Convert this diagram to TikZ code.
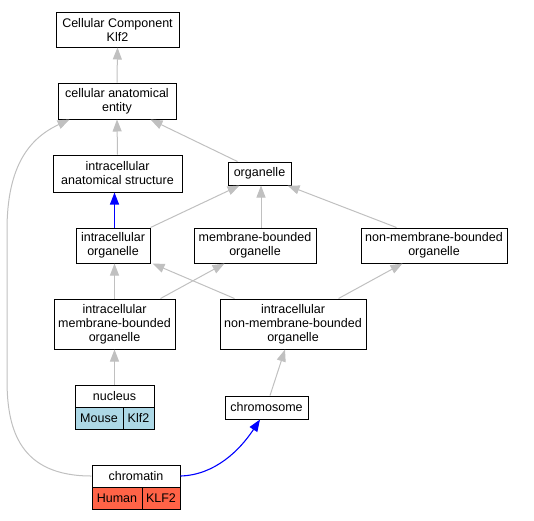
\documentclass[tikz,border=0pt]{standalone}
\usepackage{fontspec}
\setmainfont{Liberation Sans}
\usetikzlibrary{arrows.meta}
\definecolor{edgegray}{HTML}{C0C0C0}
\definecolor{mouseblue}{HTML}{ADD8E6}
\definecolor{humanred}{HTML}{FF6347}
\tikzset{
  box/.style={draw=black, line width=1pt, fill=white, inner sep=0pt, align=center,
    font=\fontsize{12.5}{14}\selectfont},
  gedge/.style={draw=edgegray, line width=1pt, -{Triangle[length=12pt,width=9pt]}, edgegray},
  bedge/.style={draw=blue, line width=1.1pt, -{Triangle[length=12pt,width=9pt]}, blue},
}
\begin{document}
\begin{tikzpicture}[x=1pt,y=-1pt]
\useasboundingbox (0,0) rectangle (534,520);
% nodes
\node[box, minimum width=123pt, minimum height=35pt] (cc) at (117.5,29.5) {Cellular Component\\Klf2};
\node[box, minimum width=118pt, minimum height=36pt] (cae) at (117,101) {cellular anatomical\\entity};
\node[box, minimum width=129pt, minimum height=37pt] (ias) at (117.5,173.5) {intracellular\\anatomical structure};
\node[box, minimum width=63pt, minimum height=23pt] (org) at (259.5,173.5) {organelle};
\node[box, minimum width=74pt, minimum height=35pt] (io) at (113,245.5) {intracellular\\organelle};
\node[box, minimum width=122pt, minimum height=35pt] (mbo) at (255,245.5) {membrane-bounded\\organelle};
\node[box, minimum width=146pt, minimum height=35pt] (nmbo) at (434,245.5) {non-membrane-bounded\\organelle};
\node[box, minimum width=121pt, minimum height=50pt] (imbo) at (114.5,324) {intracellular\\membrane-bounded\\organelle};
\node[box, minimum width=146pt, minimum height=50pt] (inmbo) at (293,324) {intracellular\\non-membrane-bounded\\organelle};
\node[box, minimum width=79pt, minimum height=22pt] (nuc) at (114.5,396) {nucleus};
\node[box, fill=mouseblue, minimum width=48pt, minimum height=22pt] (nucm) at (99,418) {Mouse};
\node[box, fill=mouseblue, minimum width=31pt, minimum height=22pt] (nuck) at (138.5,418) {Klf2};
\node[box, minimum width=83pt, minimum height=23pt] (chrs) at (266.5,407.5) {chromosome};
\node[box, minimum width=88pt, minimum height=22pt] (chr) at (136,476) {chromatin};
\node[box, fill=humanred, minimum width=50pt, minimum height=22pt] (chrh) at (117,498) {Human};
\node[box, fill=humanred, minimum width=38pt, minimum height=22pt] (chrk) at (161,498) {KLF2};
% edges
\draw[gedge] (cae.north) -- (cc.south);
\draw[gedge] (ias.north) -- (cae.south);
\draw[gedge] ([xshift=10pt]org.north west) -- ([xshift=-26pt]cae.south east);
\draw[bedge] ([xshift=1.5pt]io.north) -- ([xshift=1.5pt]io.north |- ias.south);
\draw[gedge] (io.north east) -- ([xshift=12pt]org.south west);
\draw[gedge] ([xshift=6pt]mbo.north) -- ([xshift=1.5pt]org.south);
\draw[gedge] ([xshift=36pt]nmbo.north west) -- ([xshift=-4pt]org.south east);
\draw[gedge] (imbo.north) -- (imbo.north |- io.south);
\draw[gedge] ([xshift=-15pt]imbo.north east) -- ([xshift=31pt]mbo.south west);
\draw[gedge] ([xshift=15pt]inmbo.north west) -- ([xshift=2pt]io.south east);
\draw[gedge] ([xshift=-28pt]inmbo.north east) -- ([xshift=42pt]nmbo.south west);
\draw[gedge] (nuc.north) -- (imbo.south);
\draw[gedge] ([xshift=3.5pt]chrs.north) -- ([xshift=-8pt]inmbo.south);
\draw[bedge] (chr.east) .. controls (215,475) and (240,450) .. ([xshift=-6.5pt]chrs.south);
\draw[gedge] (chr.west) .. controls (20,476) and (7,430) .. (7,380) -- (7,230)
  .. controls (7,165) and (30,138) .. ([xshift=12pt]cae.south west);
\end{tikzpicture}
\end{document}
